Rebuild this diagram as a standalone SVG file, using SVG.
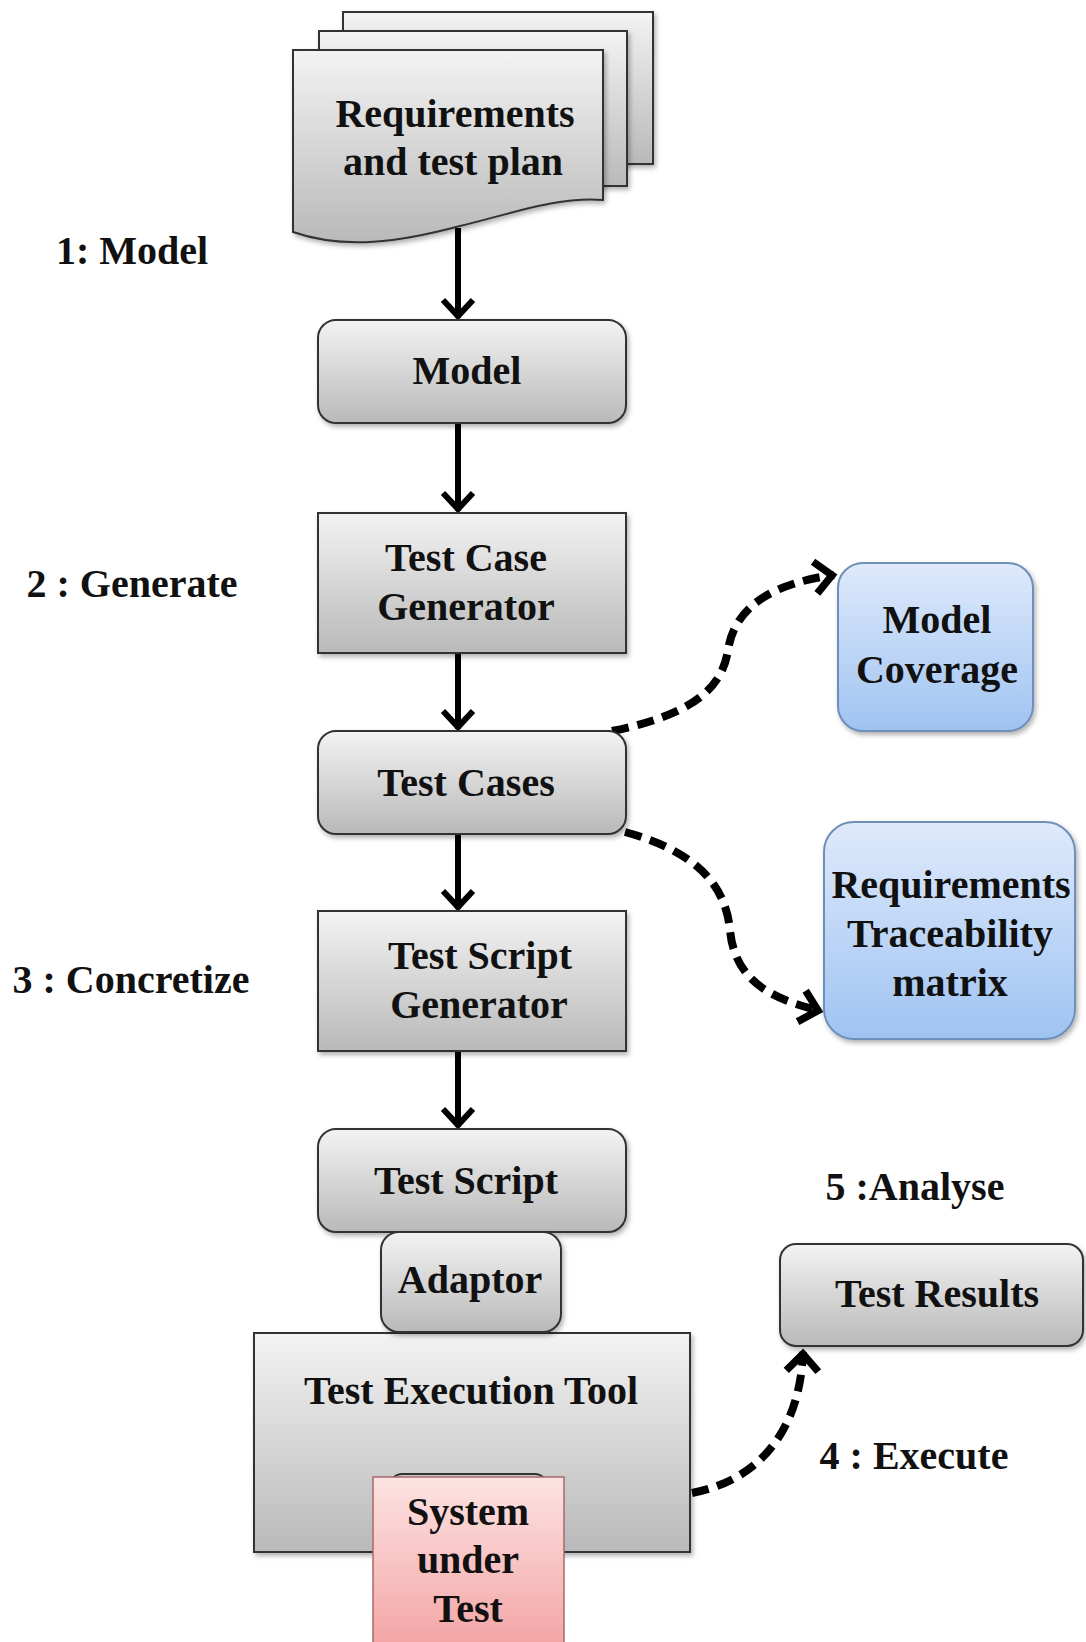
<svg xmlns="http://www.w3.org/2000/svg" width="1086" height="1642" viewBox="0 0 1086 1642">
  <defs>
    <linearGradient id="grey" x1="0" y1="0" x2="0" y2="1">
      <stop offset="0" stop-color="#f3f3f3"/>
      <stop offset="1" stop-color="#b9b9b9"/>
    </linearGradient>
    <linearGradient id="blue" x1="0" y1="0" x2="0" y2="1">
      <stop offset="0" stop-color="#dfeafb"/>
      <stop offset="1" stop-color="#9fc3f2"/>
    </linearGradient>
    <linearGradient id="pink" x1="0" y1="0" x2="0" y2="1">
      <stop offset="0" stop-color="#fde3e3"/>
      <stop offset="1" stop-color="#f3a2a2"/>
    </linearGradient>
    <filter id="shadow" x="-10%" y="-10%" width="125%" height="130%">
      <feDropShadow dx="2" dy="3" stdDeviation="2.5" flood-color="#000" flood-opacity="0.3"/>
    </filter>
    <marker id="head" markerUnits="userSpaceOnUse" viewBox="-26 -22 30 44" markerWidth="30" markerHeight="44" refX="0" refY="0" orient="auto">
      <path d="M-18,-15 L-2,0 L-18,15" fill="none" stroke="#000" stroke-width="6" stroke-dasharray="none"/>
    </marker>
    <marker id="headDash" markerUnits="userSpaceOnUse" viewBox="-28 -24 32 48" markerWidth="32" markerHeight="48" refX="0" refY="0" orient="auto">
      <path d="M-19,-16 L-2,0 L-19,16" fill="none" stroke="#000" stroke-width="7.5" stroke-dasharray="none"/>
    </marker>
  </defs>
  <style>
    .box { fill: url(#grey); stroke: #333; stroke-width: 2; filter: url(#shadow); }
    .bluebox { fill: url(#blue); stroke: #6f8fb8; stroke-width: 2; filter: url(#shadow); }
    .pinkbox { fill: url(#pink); stroke: #a86a6a; stroke-width: 1.5; }
    .txt { font-family: "Liberation Serif", "Times New Roman", serif; font-weight: bold; font-size: 40px; fill: #111; text-anchor: middle; }
    .flow { fill: none; stroke: #000; stroke-width: 6; marker-end: url(#head); }
    .dash { fill: none; stroke: #000; stroke-width: 8; stroke-dasharray: 17 9; marker-end: url(#headDash); }
  </style>

  <rect width="1086" height="1642" fill="#fff"/>

  <!-- step labels -->
  <g id="step-labels">
    <text class="txt" x="132" y="264">1: Model</text>
    <text class="txt" x="132" y="597">2 : Generate</text>
    <text class="txt" x="131" y="993">3 : Concretize</text>
    <text class="txt" x="915" y="1200">5 :Analyse</text>
    <text class="txt" x="914" y="1469">4 : Execute</text>
  </g>

  <!-- connectors -->
  <g id="connectors">
    <line class="flow" x1="458" y1="228" x2="458" y2="318"/>
    <line class="flow" x1="458" y1="424" x2="458" y2="511"/>
    <line class="flow" x1="458" y1="654" x2="458" y2="729"/>
    <line class="flow" x1="458" y1="835" x2="458" y2="909"/>
    <line class="flow" x1="458" y1="1052" x2="458" y2="1127"/>
    <path class="dash" d="M612,731 C690,715 722,690 728,650 C735,605 775,583 834,575"/>
    <path class="dash" d="M625,832 C690,850 725,880 730,930 C735,985 778,1000 820,1011"/>
    <path class="dash" d="M692,1493 C760,1480 800,1430 803,1352"/>
  </g>

  <!-- stacked document -->
  <g id="requirements-doc">
    <rect class="box" x="343" y="12" width="310" height="152"/>
    <rect class="box" x="319" y="31" width="308" height="155"/>
    <path class="box" d="M293,50 H603 V200 C560,196 510,214 460,226 C400,242 345,250 293,232 Z"/>
    <text class="txt" x="455" y="127">Requirements</text>
    <text class="txt" x="453" y="175">and test plan</text>
  </g>

  <g id="model">
    <rect class="box" x="318" y="320" width="308" height="103" rx="18"/>
    <text class="txt" x="467" y="384">Model</text>
  </g>

  <g id="test-case-generator">
    <rect class="box" x="318" y="513" width="308" height="140"/>
    <text class="txt" x="466" y="571">Test Case</text>
    <text class="txt" x="466" y="620">Generator</text>
  </g>

  <g id="test-cases">
    <rect class="box" x="318" y="731" width="308" height="103" rx="18"/>
    <text class="txt" x="466" y="796">Test Cases</text>
  </g>

  <g id="model-coverage">
    <rect class="bluebox" x="838" y="563" width="195" height="168" rx="25"/>
    <text class="txt" x="937" y="633">Model</text>
    <text class="txt" x="937" y="683">Coverage</text>
  </g>

  <g id="traceability-matrix">
    <rect class="bluebox" x="824" y="822" width="251" height="217" rx="30"/>
    <text class="txt" x="951" y="898">Requirements</text>
    <text class="txt" x="950" y="947">Traceability</text>
    <text class="txt" x="950" y="996">matrix</text>
  </g>

  <g id="test-script-generator">
    <rect class="box" x="318" y="911" width="308" height="140"/>
    <text class="txt" x="480" y="969">Test Script</text>
    <text class="txt" x="479" y="1018">Generator</text>
  </g>

  <g id="test-script">
    <rect class="box" x="318" y="1129" width="308" height="103" rx="18"/>
    <text class="txt" x="466" y="1194">Test Script</text>
  </g>

  <g id="test-execution-tool">
    <rect class="box" x="254" y="1333" width="436" height="219"/>
    <text class="txt" x="471" y="1404">Test Execution Tool</text>
  </g>

  <g id="adaptor">
    <rect class="box" x="381" y="1232" width="180" height="100" rx="18"/>
    <text class="txt" x="470" y="1293">Adaptor</text>
  </g>

  <g id="system-under-test">
    <rect x="390" y="1474" width="157" height="60" rx="12" fill="#c8c8c8" stroke="#333" stroke-width="2"/>
    <rect class="pinkbox" x="373" y="1477" width="191" height="175"/>
    <text class="txt" x="468" y="1525">System</text>
    <text class="txt" x="468" y="1573">under</text>
    <text class="txt" x="468" y="1622">Test</text>
  </g>

  <g id="test-results">
    <rect class="box" x="780" y="1244" width="303" height="102" rx="16"/>
    <text class="txt" x="937" y="1307">Test Results</text>
  </g>
</svg>
